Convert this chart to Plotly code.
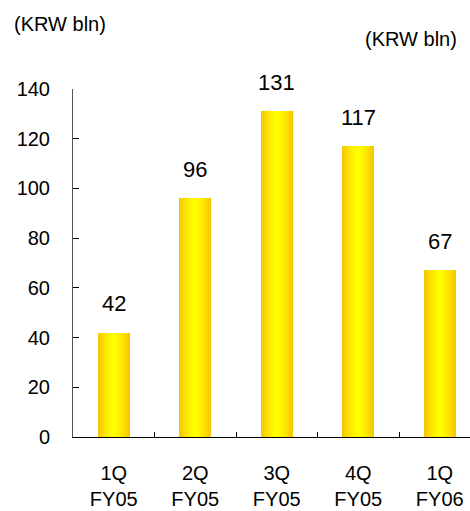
import plotly.graph_objects as go

# Quarterly figures (KRW bln)
quarters = ["1Q", "2Q", "3Q", "4Q", "1Q"]
fiscal_years = ["FY05", "FY05", "FY05", "FY05", "FY06"]
values = [42, 96, 131, 117, 67]
y_ticks = [0, 20, 40, 60, 80, 100, 120, 140]
unit_label = "(KRW bln)"

categories = [f"{q}<br>{fy}" for q, fy in zip(quarters, fiscal_years)]

FONT = "Liberation Sans, Arial, sans-serif"
BAR_WIDTH = 0.393
EDGE = (247, 197, 0)
CENTER = (255, 255, 0)
LAYERS = 16


def blend(d):
    # d = 0 at bar centre, 1 at bar edge
    t = d ** 1.4
    r, g, b = (round(c + (e - c) * t) for c, e in zip(CENTER, EDGE))
    return f"rgb({r},{g},{b})"


fig = go.Figure()

# Horizontal gold-to-yellow shading: nested overlaid bars, narrowing toward the centre
for k in range(LAYERS):
    frac = (LAYERS - k) / LAYERS
    fig.add_trace(go.Bar(
        x=categories,
        y=values,
        width=[BAR_WIDTH * frac] * len(values),
        marker=dict(color=blend(frac), line=dict(width=0)),
        hoverinfo="skip" if k else None,
        showlegend=False,
    ))

# Value labels above each bar
for cat, v in zip(categories, values):
    fig.add_annotation(
        x=cat, y=v, text=str(v), showarrow=False,
        yanchor="middle", yshift=29,
        font=dict(size=22, color="black", family=FONT),
    )

# Unit captions
fig.add_annotation(
    xref="paper", yref="paper", x=-0.1537, y=1.1875,
    xanchor="left", yanchor="middle", text=unit_label, showarrow=False,
    font=dict(size=20, color="black", family=FONT),
)
fig.add_annotation(
    xref="paper", yref="paper", x=0.972, y=1.1425,
    xanchor="right", yanchor="middle", text=unit_label, showarrow=False,
    font=dict(size=20, color="black", family=FONT),
)

fig.update_layout(
    width=470, height=511,
    margin=dict(l=73, r=0, t=88.7, b=73.5),
    barmode="overlay",
    bargap=0,
    plot_bgcolor="white",
    paper_bgcolor="white",
    font=dict(family=FONT, size=20, color="black"),
    showlegend=False,
)

fig.update_xaxes(
    type="category",
    categoryorder="array", categoryarray=categories,
    range=[-0.5, 4.371],
    tickson="boundaries",
    ticks="inside", ticklen=5, tickcolor="black",
    showline=True, linecolor="black", linewidth=1,
    showgrid=False, zeroline=False,
    tickfont=dict(size=20, family=FONT, color="black"),
    ticklabelstandoff=18,
)

fig.update_yaxes(
    range=[0, 140],
    tickvals=y_ticks,
    ticks="inside", ticklen=6, tickcolor="black",
    showline=True, linecolor="#555555", linewidth=1,
    showgrid=False, zeroline=False,
    tickfont=dict(size=20, family=FONT, color="black"),
    ticklabelstandoff=18,
)

fig.write_html("out.html")
